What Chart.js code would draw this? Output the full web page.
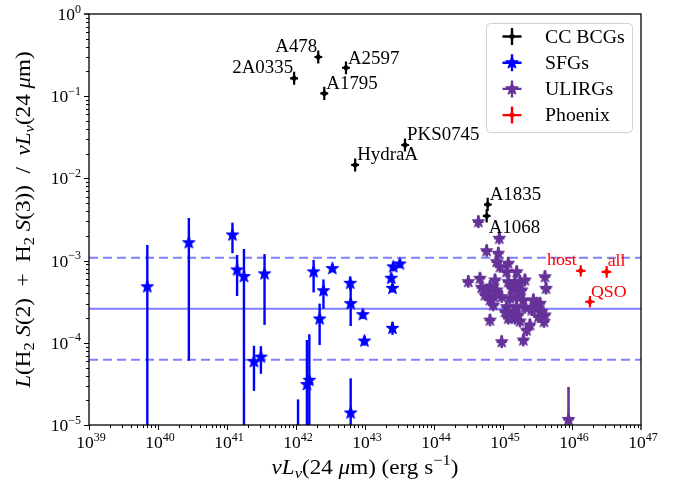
<!DOCTYPE html>
<html>
<head>
<meta charset="utf-8">
<script src="https://cdn.jsdelivr.net/npm/chart.js@4.4.0/dist/chart.umd.min.js"></script>
<style>
  html, body { margin: 0; padding: 0; background: #fff; }
  #chart { display: block; }
</style>
</head>
<body>
<canvas id="chart" width="678" height="485"></canvas>
<script>
// axis ranges (log10 decades)
const xExps = [39, 40, 41, 42, 43, 44, 45, 46, 47];
const yExps = [-5, -4, -3, -2, -1, 0];

// cool-core BCGs
const bcgNames = ['2A0335', 'A478', 'A2597', 'A1795', 'HydraA', 'PKS0745', 'A1835', 'A1068'];
const bcgLum = [9.4e41, 2.1e42, 5.3e42, 2.57e42, 7.2e42, 3.8e43, 6.0e44, 5.8e44];
const bcgLumLo = [8.2e41, 1.85e42, 4.65e42, 2.25e42, 6.3e42, 3.35e43, 5.3e44, 5.1e44];
const bcgLumHi = [1.07e42, 2.4e42, 6.05e42, 2.93e42, 8.2e42, 4.35e43, 6.85e44, 6.6e44];
const bcgRatio = [0.165, 0.30, 0.222, 0.108, 0.0146, 0.0255, 0.0048, 0.0035];
const bcgRatioLo = [0.138, 0.25, 0.185, 0.09, 0.0121, 0.0213, 0.004, 0.0029];
const bcgRatioHi = [0.198, 0.36, 0.265, 0.13, 0.0175, 0.0305, 0.0058, 0.0042];

// star-forming galaxies
const sfgLum = [7.0e39, 2.8e40, 1.2e41, 1.4e41, 1.76e41, 3.5e41, 2.46e41, 3.1e41, 1.07e42,
  1.44e42, 1.56e42, 1.8e42, 2.5e42, 2.2e42, 3.36e42, 6.1e42, 6.2e42, 6.2e42, 9.3e42, 9.8e42,
  2.57e43, 3.2e43, 2.4e43, 2.5e43, 2.5e43];
const sfgRatio = [4.8e-4, 1.65e-3, 2.05e-3, 7.7e-4, 6.4e-4, 6.9e-4, 5.9e-5, 6.7e-5, 5e-6,
  3.1e-5, 3.5e-5, 7.3e-4, 4.3e-4, 1.95e-4, 8.0e-4, 5.3e-4, 3.0e-4, 1.4e-5, 2.2e-4, 1.05e-4,
  8.4e-4, 9.1e-4, 6.1e-4, 4.6e-4, 1.5e-4];
const sfgRatioLo = [1e-6, 6.05e-5, 1.23e-3, 3.7e-4, 1e-6, 1.65e-4, 2.6e-5, 4.2e-5, 1e-6,
  1e-6, 1e-6, 4.1e-4, 2.6e-4, 9.4e-5, 7.2e-4, 4.4e-4, 1.6e-4, 1e-6, 1.95e-4, 9.2e-5,
  7.4e-4, 8.1e-4, 5.4e-4, 4.1e-4, 1.25e-4];
const sfgRatioHi = [1.55e-3, 3.3e-3, 2.9e-3, 1.17e-3, 1.38e-3, 1.2e-3, 9.2e-5, 9.1e-5, 2.05e-5,
  1.08e-4, 1.27e-4, 1.02e-3, 5.9e-4, 3.0e-4, 8.9e-4, 6.4e-4, 5.0e-4, 3.7e-5, 2.5e-4, 1.2e-4,
  9.5e-4, 1.02e-3, 6.9e-4, 5.2e-4, 1.8e-4];

// ULIRGs
const ulirgLum = [4.39e44, 8.84e44, 5.8e44, 8.55e44, 8.11e44, 1.19e45, 9.05e44, 1.13e45, 1.58e45,
  3.14e44, 4.64e44, 4.91e44, 6.48e44, 7.66e44, 8.11e44, 1.19e45, 1.49e45, 1.76e45, 2.08e45,
  1.34e45, 1.58e45, 1.87e45, 5.48e44, 7.23e44, 9.58e44, 1.26e45, 1.97e45, 6.48e44, 7.23e44,
  1.13e45, 1.58e45, 2.08e45, 2.75e45, 3.08e45, 3.44e45, 3.25e45, 3.64e45, 4.06e45, 2.61e45,
  1.26e45, 1.67e45, 1.41e45, 6.48e44, 2.46e45, 2.2e45, 1.97e45, 9.58e44, 4.06e45, 4.2e45,
  3.93e45, 3.25e45, 1.58e45, 1.07e45, 1.19e45, 1.49e45, 8.11e44, 5.8e44, 1.76e45, 8.9e45];
const ulirgRatio = [2.97e-3, 1.87e-3, 1.32e-3, 1.23e-3, 9.7e-4, 9.3e-4, 8.43e-4, 7.33e-4, 7.33e-4,
  5.54e-4, 6.09e-4, 4.73e-4, 4.81e-4, 5.81e-4, 4.39e-4, 5.54e-4, 5.54e-4, 5.54e-4, 5.81e-4,
  4.6e-4, 4.48e-4, 4.39e-4, 3.82e-4, 3.64e-4, 3.64e-4, 3.48e-4, 3.32e-4, 3.32e-4, 2.88e-4,
  2.75e-4, 2.75e-4, 2.7e-4, 3.32e-4, 3.02e-4, 3.02e-4, 2.63e-4, 2.39e-4, 2.18e-4, 2.51e-4,
  2.08e-4, 2.18e-4, 2.39e-4, 1.89e-4, 1.65e-4, 1.43e-4, 1.08e-4, 1.03e-4, 6.37e-4, 4.6e-4,
  1.81e-4, 2.08e-4, 3.64e-4, 2.39e-4, 1.99e-4, 1.99e-4, 4.0e-4, 4.39e-4, 1.84e-4, 1.17e-5];
const ulirgErrDex = 0.075;       // typical 1-sigma, both axes
const ulirgRatioHiOverride = { 58: 2.9e-5 };

// Phoenix cluster
const phxNames = ['host', 'all', 'QSO'];
const phxLum = [1.34e46, 3.18e46, 1.82e46];
const phxLumLo = [1.15e46, 2.7e46, 1.55e46];
const phxLumHi = [1.57e46, 3.7e46, 2.13e46];
const phxRatio = [7.5e-4, 7.3e-4, 3.16e-4];
const phxRatioLo = [6.4e-4, 6.2e-4, 2.7e-4];
const phxRatioHi = [8.8e-4, 8.6e-4, 3.7e-4];

// SFG mean ratio and scatter band
const refMean = 2.6e-4;
const refUpper = 1.08e-3;
const refLower = 6.2e-5;

const SERIF = '"Liberation Serif", "DejaVu Serif", serif';
const BLUE = '#0000ff';
const PURPLE = '#663399';
const RED = '#ff0000';

function toPoints(xs, ys) {
  return xs.map((x, i) => ({ x: x, y: ys[i] }));
}

function starImage(color, R) {
  const size = Math.ceil(2 * R + 4);
  const cv = document.createElement('canvas');
  cv.width = cv.height = size;
  const c = cv.getContext('2d');
  c.translate(size / 2, size / 2);
  drawStar(c, 0, 0, R, color);
  return cv;
}

function drawStar(c, cx, cy, R, color) {
  c.beginPath();
  for (let k = 0; k < 10; k++) {
    const rr = k % 2 ? R * 0.4 : R;
    const a = -Math.PI / 2 + k * Math.PI / 5;
    c.lineTo(cx + rr * Math.cos(a), cy + rr * Math.sin(a));
  }
  c.closePath();
  c.fillStyle = color;
  c.fill();
  c.lineJoin = 'round';
  c.lineWidth = 1.2;
  c.strokeStyle = color;
  c.stroke();
}

const blueStar = starImage(BLUE, 6.3);
const purpleStar = starImage(PURPLE, 6.3);

// rich text: runs of {t, it, sub, sup}, drawn with a horizontal stretch sx
function runFont(r, size) {
  const s = (r.sub || r.sup) ? Math.round(size * 0.7) : size;
  return (r.it ? 'italic ' : '') + s + 'px ' + SERIF;
}
function richWidth(c, runs, size) {
  let w = 0;
  runs.forEach(r => { c.font = runFont(r, size); w += c.measureText(r.t).width; });
  return w;
}
function drawRich(c, runs, x, y, size, align, sx) {
  sx = sx || 1;
  const w = richWidth(c, runs, size) * sx;
  const x0 = align === 'center' ? x - w / 2 : align === 'right' ? x - w : x;
  c.save();
  c.translate(x0, y);
  c.scale(sx, 1);
  c.textAlign = 'left';
  c.textBaseline = 'alphabetic';
  let cx = 0;
  runs.forEach(r => {
    c.font = runFont(r, size);
    const dy = r.sub ? size * 0.2 : r.sup ? -size * 0.42 : 0;
    c.fillText(r.t, cx, dy);
    cx += c.measureText(r.t).width;
  });
  c.restore();
}
function drawText(c, text, x, y, size, align, sx) {
  drawRich(c, [{ t: text }], x, y, size, align, sx);
}
function powLabel(e) {
  return [{ t: '10' }, { t: String(e).replace('-', '\u2212'), sup: true }];
}

const xTitle = [
  { t: 'ν', it: true }, { t: 'L', it: true }, { t: 'ν', it: true, sub: true },
  { t: '(24 ' }, { t: 'μ', it: true }, { t: 'm) (erg s' }, { t: '\u22121', sup: true }, { t: ')' }
];
const yTitle = [
  { t: 'L', it: true }, { t: '(H' }, { t: '2', sub: true }, { t: ' ' }, { t: 'S', it: true },
  { t: '(2)  +  H' }, { t: '2', sub: true }, { t: ' ' }, { t: 'S', it: true }, { t: '(3))  /  ' },
  { t: 'ν', it: true }, { t: 'L', it: true }, { t: 'ν', it: true, sub: true },
  { t: '(24 ' }, { t: 'μ', it: true }, { t: 'm)' }
];

// label placement around a point: [align, dx, dy(baseline)]
const bcgLabelPlace = [
  ['right', -1, -5], ['right', -1, -5], ['left', 2, -4], ['left', 2, -4],
  ['left', 2, -5], ['left', 2, -5], ['left', 2, -5], ['left', 2, 17]
];
const phxLabelPlace = [['right', -4, -6], ['left', 1, -6], ['left', 1, -5]];

const ulirgFactor = 10 ** ulirgErrDex;

const datasets = [
  {
    label: 'mean', type: 'line', order: 10,
    data: [{ x: 1e39, y: refMean }, { x: 1e47, y: refMean }],
    borderColor: 'rgba(0,0,255,0.5)', borderWidth: 2, pointRadius: 0
  },
  {
    label: 'upper', type: 'line', order: 10,
    data: [{ x: 1e39, y: refUpper }, { x: 1e47, y: refUpper }],
    borderColor: 'rgba(0,0,255,0.5)', borderWidth: 2, borderDash: [9, 5], pointRadius: 0
  },
  {
    label: 'lower', type: 'line', order: 10,
    data: [{ x: 1e39, y: refLower }, { x: 1e47, y: refLower }],
    borderColor: 'rgba(0,0,255,0.5)', borderWidth: 2, borderDash: [9, 5], pointRadius: 0
  },
  {
    label: 'CC BCGs', order: 4,
    data: toPoints(bcgLum, bcgRatio),
    pointStyle: 'rectRot', pointRadius: 3.5, backgroundColor: '#000', borderColor: '#000', borderWidth: 0,
    errorBars: { xLo: bcgLumLo, xHi: bcgLumHi, yLo: bcgRatioLo, yHi: bcgRatioHi, color: '#000', width: 2.2 }
  },
  {
    label: 'SFGs', order: 3,
    data: toPoints(sfgLum, sfgRatio),
    pointStyle: blueStar, pointRadius: 6,
    errorBars: { yLo: sfgRatioLo, yHi: sfgRatioHi, color: BLUE, width: 2.4 }
  },
  {
    label: 'ULIRGs', order: 2,
    data: toPoints(ulirgLum, ulirgRatio),
    pointStyle: purpleStar, pointRadius: 6,
    errorBars: {
      xLo: ulirgLum.map(v => v / ulirgFactor), xHi: ulirgLum.map(v => v * ulirgFactor),
      yLo: ulirgRatio.map(v => v / ulirgFactor),
      yHi: ulirgRatio.map((v, i) => ulirgRatioHiOverride[i] || v * ulirgFactor),
      color: PURPLE, width: 2.6
    }
  },
  {
    label: 'Phoenix', order: 1,
    data: toPoints(phxLum, phxRatio),
    pointStyle: 'rectRot', pointRadius: 3.5, backgroundColor: RED, borderColor: RED, borderWidth: 0,
    errorBars: { xLo: phxLumLo, xHi: phxLumHi, yLo: phxRatioLo, yHi: phxRatioHi, color: RED, width: 2.2 }
  }
];

const errorBarPlugin = {
  id: 'errorBars',
  beforeDatasetDraw(chart, args) {
    const ds = chart.data.datasets[args.index];
    const eb = ds.errorBars;
    if (!eb) return;
    const c = chart.ctx, a = chart.chartArea, x = chart.scales.x, y = chart.scales.y;
    c.save();
    c.beginPath();
    c.rect(a.left, a.top, a.right - a.left, a.bottom - a.top);
    c.clip();
    c.strokeStyle = eb.color;
    c.lineWidth = eb.width;
    ds.data.forEach((p, i) => {
      const px = x.getPixelForValue(p.x), py = y.getPixelForValue(p.y);
      c.beginPath();
      if (eb.yLo) {
        c.moveTo(px, y.getPixelForValue(eb.yLo[i]));
        c.lineTo(px, y.getPixelForValue(eb.yHi[i]));
      }
      if (eb.xLo) {
        c.moveTo(x.getPixelForValue(eb.xLo[i]), py);
        c.lineTo(x.getPixelForValue(eb.xHi[i]), py);
      }
      c.stroke();
    });
    c.restore();
  }
};

const labelPlugin = {
  id: 'pointLabels',
  afterDatasetsDraw(chart) {
    const c = chart.ctx, x = chart.scales.x, y = chart.scales.y;
    c.save();
    c.fillStyle = '#000';
    bcgNames.forEach((n, i) => {
      const [al, dx, dy] = bcgLabelPlace[i];
      drawText(c, n, x.getPixelForValue(bcgLum[i]) + dx, y.getPixelForValue(bcgRatio[i]) + dy, 18, al, 1.05);
    });
    c.fillStyle = RED;
    phxNames.forEach((n, i) => {
      const [al, dx, dy] = phxLabelPlace[i];
      drawText(c, n, x.getPixelForValue(phxLum[i]) + dx, y.getPixelForValue(phxRatio[i]) + dy, 17, al, 1.05);
    });
    c.restore();
  }
};

const frameLegend = {
  id: 'frameLegend',
  afterDraw(chart) {
    const c = chart.ctx, a = chart.chartArea, x = chart.scales.x, y = chart.scales.y;
    c.save();
    c.strokeStyle = '#000';
    c.fillStyle = '#000';
    // ticks
    c.lineWidth = 1;
    c.beginPath();
    for (let e = xExps[0]; e < xExps[xExps.length - 1]; e++) {
      for (let m = 1; m <= 9; m++) {
        const px = Math.round(x.getPixelForValue(m * 10 ** e)) + 0.5;
        const len = m === 1 ? 5 : 3;
        c.moveTo(px, a.bottom); c.lineTo(px, a.bottom + len);
      }
    }
    for (let e = yExps[0]; e < yExps[yExps.length - 1]; e++) {
      for (let m = 1; m <= 9; m++) {
        const py = Math.round(y.getPixelForValue(m * 10 ** e)) + 0.5;
        const len = m === 1 ? 5 : 3;
        c.moveTo(a.left, py); c.lineTo(a.left - len, py);
      }
    }
    c.stroke();
    // frame
    c.lineWidth = 1.3;
    c.strokeRect(a.left, a.top, a.right - a.left, a.bottom - a.top);
    c.beginPath();
    c.moveTo(Math.round(a.left - 5), a.top); c.lineTo(a.left, a.top);
    c.moveTo(a.right, a.bottom); c.lineTo(a.right, a.bottom + 5);
    c.stroke();

    // tick labels
    xExps.forEach(e => drawRich(c, powLabel(e), x.getPixelForValue(10 ** e) + 2, a.bottom + 23, 17.5, 'center'));
    yExps.forEach(e => drawRich(c, powLabel(e), a.left - 8, y.getPixelForValue(10 ** e) + 6, 17.5, 'right'));

    // axis titles
    drawRich(c, xTitle, (a.left + a.right) / 2, 474, 21, 'center', 1.1);
    c.save();
    c.translate(30, (a.top + a.bottom) / 2);
    c.rotate(-Math.PI / 2);
    drawRich(c, yTitle, 0, 0, 21, 'center', 1.1);
    c.restore();

    // legend
    const lx = 486, ly = 23, lw = 146, lh = 109;
    c.beginPath();
    c.roundRect(lx + 0.5, ly + 0.5, lw, lh, 4);
    c.fillStyle = 'rgba(255,255,255,0.8)';
    c.fill();
    c.strokeStyle = 'rgba(204,204,204,0.9)';
    c.lineWidth = 1;
    c.stroke();
    const entries = [
      { name: 'CC BCGs', color: '#000', mark: 'diamond' },
      { name: 'SFGs', color: BLUE, mark: 'star' },
      { name: 'ULIRGs', color: PURPLE, mark: 'star' },
      { name: 'Phoenix', color: RED, mark: 'diamond' }
    ];
    entries.forEach((en, i) => {
      const cy = 36.5 + i * 26.2, cx = 512;
      c.strokeStyle = en.color;
      c.lineWidth = 2.4;
      c.beginPath();
      c.moveTo(cx - 9.5, cy); c.lineTo(cx + 9.5, cy);
      c.moveTo(cx, cy - 8.5); c.lineTo(cx, cy + 8.5);
      c.stroke();
      if (en.mark === 'star') {
        drawStar(c, cx, cy, 6.3, en.color);
      } else {
        c.fillStyle = en.color;
        c.beginPath();
        c.moveTo(cx, cy - 3.5); c.lineTo(cx + 3.5, cy); c.lineTo(cx, cy + 3.5); c.lineTo(cx - 3.5, cy);
        c.closePath();
        c.fill();
      }
      c.fillStyle = '#000';
      drawText(c, en.name, 545, cy + 6, 18, 'left', 1.1);
    });
    c.restore();
  }
};

new Chart(document.getElementById('chart'), {
  type: 'scatter',
  data: { datasets: datasets },
  options: {
    responsive: false,
    animation: false,
    devicePixelRatio: 1,
    layout: { padding: { left: 89, right: 37, top: 14, bottom: 60 } },
    plugins: { legend: { display: false }, tooltip: { enabled: false } },
    scales: {
      x: {
        type: 'logarithmic', display: false,
        min: 10 ** xExps[0], max: 10 ** xExps[xExps.length - 1]
      },
      y: {
        type: 'logarithmic', display: false,
        min: 10 ** yExps[0], max: 10 ** yExps[yExps.length - 1]
      }
    }
  },
  plugins: [errorBarPlugin, labelPlugin, frameLegend]
});
</script>
</body>
</html>
